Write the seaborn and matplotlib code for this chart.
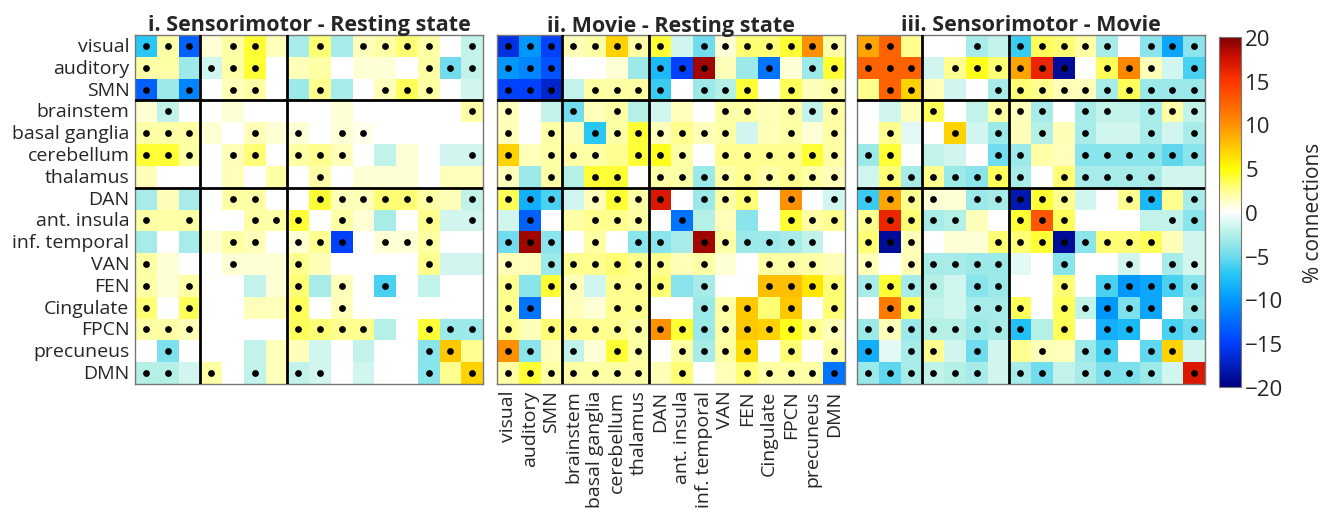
import numpy as np
import pandas as pd
import matplotlib
matplotlib.use("Agg")
import matplotlib.pyplot as plt
import seaborn as sns
from matplotlib.colors import LinearSegmentedColormap

sns.set_style("white")
plt.rcParams['font.family'] = ['Open Sans', 'DejaVu Sans']

regions = ["visual", "auditory", "SMN", "brainstem", "basal ganglia", "cerebellum",
           "thalamus", "DAN", "ant. insula", "inf. temporal", "VAN", "FEN",
           "Cingulate", "FPCN", "precuneus", "DMN"]

titles = ["i. Sensorimotor - Resting state", "ii. Movie - Resting state",
          "iii. Sensorimotor - Movie"]

# ---- panel i : Sensorimotor - Resting state (% connections)
sens_rest = [
    [-7, 2, -13, 1, 2, 4, 1.5, -3, 3, -3, 1.5, 2, 3, 2, 0, -2],
    [2, 2, -3.5, -1.5, 2, 4, 0, 1.5, 2, 0, 1, 1, 0, 2, -5, -2],
    [-13, -3.5, -11, 0, 1.5, 2, 0, -3.5, 2.5, -3, 0, 1.5, 3.5, 2, 0, -1.5],
    [1, -2, 0, 0, 1, 0, 0, 0, 0, 1, 0, 0, 0, 0, 0, 2],
    [2, 2, 2, 1, 0, 1.5, 1, 1, 0, 1, 0.5, 0, 0, 0, 0, 0],
    [4, 4, 2, 0, 1.5, 3, 0, 2, 2.5, 1.5, 0, -2, 1, 0, -1.5, -1.5],
    [1.5, 0, 0, 0, 1.5, 0, 2, 0, 2, 0, 1, 1, 1, 0, 1.5, 1.5],
    [-3, 1.5, -3, 0, 2, 2, 0, 0, 4, 1.5, 1.5, 3, 3, 2, 1.5, -2],
    [2, 2, 2, 0, 0, 2, 2, 4, 0, 2, 1, -3, 0, 2.5, -1.5, -1.5],
    [-3, 0, -3, 1, 2, 1.5, 0, 1, 2.5, -15, 0, 1, 1, 2, 0, 0],
    [2, 1, 0, 0, 1, 1, 1, 2.5, 1.5, 0, 0, 0, 0, 2.5, -1.5, -1.5],
    [2, 1, 2, 0, 0, -2, 1, 3, -3, 1.5, 0, -6, 0, -2, 0, 0],
    [3, 0, 3.5, 0, 0, 1.5, 1.5, 3.5, 0, 1.5, 0, 0, 0, 0, 0, 0],
    [2, 2, 1.5, 0, 0, 0, 0, 3.5, 3, 2.5, 2.5, -2.5, 0, 4, -3.5, -3.5],
    [0, -4.5, 0, 0, 0, -2, 1.5, 1.5, -1.5, 0, -2, 0, 0, -4, 7.5, 2.5],
    [-2.5, -2.5, -1.5, 2, 0, -2, 1.5, -2, -1.5, 0, -1.5, 0, 0, -4, 2.5, 7],
]
sens_rest_sig = [
    "1110110010111101", "1001110000000111", "1010110010011100", "0100000000000001",
    "1110010101100000", "1110110111000001", "0000000010000000", "0000110011111101",
    "1010011101000101", "0000110111011100", "1000100100000100", "1010000101010000",
    "1010000101000000", "1110000111100111", "0100000000000110", "1101010110000101",
]

# ---- panel ii : Movie - Resting state
movie_rest = [
    [-16, -10, -15, 1.5, 2, 7, 2, 4, -1.5, -5, 1, 3, 3, 4, 10, 2],
    [-10, -11, -14, 0, 0, 1, -3.5, -8, -15, 19, 1.5, -3.5, -12, 1, -3.5, 4],
    [-15, -15, -17, -2, 2, 2, 2, -6.5, 0, -3.5, -2.5, 4, 0, 3.5, 1.5, 2],
    [1.5, 0, -2, -5, 1.5, 2, -2.5, -1.5, 1.5, 0, 2, 2, 1.5, 2, -2, 2],
    [1.5, 0, 2, 1.5, -7, 2, 4, 1.5, 2.5, 1.5, 2, -1.5, 1.5, 2, 1, 2],
    [7, 1.5, 2, 2, 2, 2.5, 4, 4.5, 2, 0, 2.5, 2.5, 2.5, 2.5, 4, 2],
    [1.5, -3.5, 2, -2.5, 4, 4, 0, 2, 2, -3.5, 2, 2.5, 2, 2.5, 2, 1.5],
    [3.5, -8.5, -6, -1.5, 1.5, 4, 2, 17, 0, -3.5, 2, 3, 0, 10, 0, -1.5],
    [-1.5, -13, 0, 2, 2.5, 2.5, 2, 0, -12, -2.5, 1.5, -4, 0, 4, 2, 2.5],
    [-5, 19, -4, 0, 2, 0, -4, -4, -3, 19, 2, -3.5, -3.5, -3, -2, 0],
    [1.5, 1.5, -3.5, 2.5, 2.5, 3, 2.5, 2.5, 1.5, 2, 1, 0, 2, 2, 2, 1.5],
    [2.5, -4, 4, 1.5, -1.5, 2.5, 2.5, 3, -4, -3, 0, 0, 8, 8, 6, 3],
    [2.5, -12, 0, 1.5, 1, 2.5, 2.5, 0, 0, -3.5, 2, 7.5, 3, 7.5, 0, 3],
    [2.5, 1.5, 3, 2.5, 2.5, 2.5, 2, 10, 4, -3.5, 2, 7.5, 7, 4.5, 2.5, 1.5],
    [10, -4, 1.5, -2, 1, 4, 2, 0, 2, -3, 2, 6.5, 0, 3, 0, 2],
    [2, 4, 2, 2, 2, 2, 2, 1.5, 3, 0, 1.5, 3, 2, 2, 2, -12],
]
movie_rest_sig = [
    "1111111101111111", "1110000111001011", "1110111101110101", "1001010000110111",
    "1010111111100101", "1011101110111111", "1010110111111111", "1110111101110101",
    "0100111010000111", "1110101101111110", "1011111101001110", "1011011101001111",
    "1100011001110101", "1011111111111111", "1101011011110101", "1111111010011111",
]

# ---- panel iii : Sensorimotor - Movie
sens_movie = [
    [9, 12.5, 2.5, 0, 0, -3, -2, -6.5, 3.5, 3, 2, -3, 0, -4, -9, -4],
    [12.5, 12.5, 12.5, -1.5, 2.5, 4.5, 3, 9, 16, -19, 0, 3.5, 10.5, 1.5, -1.5, -6],
    [2.5, 12.5, 7, 1.5, -1.5, 0, -3, 3, 2.5, 1.5, 1.5, -3, 3.5, -3.5, -3.5, -3.5],
    [0, -1.5, 1.5, 3.5, 0, -2, 2, 1.5, -3, 0, -3, -2, -2, -3, 2, -2],
    [0, 2.5, -1, 0, 7, -1.5, -3.5, 1.5, -2.5, 1.5, -3, -1.5, -1.5, -3, -1.5, -3],
    [-3.5, 4, 0, -2, -1.5, 0, -5, -3.5, 2, 1.5, -4, -4, -4, -4, -5.5, -4],
    [-1.5, 3, -3, 2.5, -3.5, -4, 3.5, -3, 0, 3, -3, -3, -3, -3, -1.5, -1.5],
    [-6.5, 9, 2.5, 1, 1, -3.5, -3, -18, 4, 2.5, -1.5, 0, 2.5, -8, 2.5, -3],
    [2.5, 16, 3, -3, -2.5, 1.5, 0, 4, 13, 3.5, 0, 0, 0, -2, -2, -4],
    [3, -19, 1.5, 0, 1, 1, 3, 3, 4, -19, -4, 3, 3, 3.5, 1.5, -1.5],
    [1.5, 0, 1.5, -3, -3, -3.5, -3.5, -1, 0, -4, 0, 0, -1.5, 0, -3, -1.5],
    [-3, 4, -3, -2.5, -1.5, -4, -3.5, 0, 0, 3, 0, -6, -10, -9, -6, -4],
    [0, 11, 3.5, -2, -1.5, -3, -3, 3.5, 0, 3.5, -2, -10, -4.5, -9, 0, -3.5],
    [-3.5, 1.5, -3.5, -2.5, -2.5, -3.5, -3, -7.5, -2.5, 3.5, 0, -8.5, -8, 0, -6, -5],
    [-8.5, -1, -3, 2.5, -1.5, -5, -1.5, 2.5, 1.5, 1.5, -3.5, -6, 0, -5.5, 7, -1.5],
    [-3.5, -5.5, -3, -2, -2.5, -3, -1.5, -3, -5, -2, -3, -4.5, -4.5, -3.5, -1.5, 17],
]
sens_movie_sig = [
    "1100010111110111", "1110111111011101", "0110001111111111", "0001001110110111",
    "0100101010100101", "1100001100111111", "0111111101111100", "1111011111001101",
    "1111100111000011", "1110001111111100", "1011111001001011", "1111011001011111",
    "0110011101111101", "1111111101011011", "1011010010110110", "1111110110111101",
]

cbar_ticks = [20, 15, 10, 5, 0, -5, -10, -15, -20]

cmap = LinearSegmentedColormap.from_list("jetwhite", [
    (0.0, "#00007f"), (0.125, "#0040ff"), (0.25, "#0098ff"), (0.325, "#28c8f4"),
    (0.375, "#70dcee"), (0.4375, "#b4f0e6"), (0.5, "#ffffff"), (0.5625, "#ffff90"),
    (0.625, "#ffff00"), (0.6875, "#ffc800"), (0.75, "#ff9000"), (0.875, "#ff3400"),
    (0.94, "#d01000"), (1.0, "#800000")], N=257)

W, H = 1332, 510
fig = plt.figure(figsize=(W / 100, H / 100), dpi=100)

panel_left = [135, 497, 857]
ax_w, ax_top, ax_h = 348, 36, 349
datasets = [(sens_rest, sens_rest_sig), (movie_rest, movie_rest_sig),
            (sens_movie, sens_movie_sig)]
label_fs = 14

mesh = None
for k, (vals, sig) in enumerate(datasets):
    ax = fig.add_axes([panel_left[k] / W, 1 - (ax_top + ax_h) / H, ax_w / W, ax_h / H])
    df = pd.DataFrame(np.array(vals, dtype=float), index=regions, columns=regions)
    sns.heatmap(df, ax=ax, cmap=cmap, vmin=-20, vmax=20, cbar=False,
                xticklabels=(regions if k == 1 else False),
                yticklabels=(regions if k == 0 else False))
    mesh = ax.collections[0]
    ys, xs = [], []
    for i, row in enumerate(sig):
        for j, ch in enumerate(row):
            if ch == "1":
                ys.append(i + 0.5)
                xs.append(j + 0.5)
    ax.scatter(xs, ys, s=24, c="black", linewidths=0, zorder=5)
    for p in (3, 7):
        ax.axhline(p, color="black", lw=2, zorder=6)
        ax.axvline(p, color="black", lw=2, zorder=6)
    n = len(regions)
    ax.set_xticks(np.arange(n) + 0.5)
    ax.set_yticks(np.arange(n) + 0.5)
    if k == 1:
        ax.set_xticklabels(regions, rotation=90, fontsize=label_fs)
    else:
        ax.set_xticklabels([])
    if k == 0:
        ax.set_yticklabels(regions, rotation=0, fontsize=label_fs)
    else:
        ax.set_yticklabels([])
    ax.tick_params(direction="in", length=3, width=0.7, color="#444444",
                   top=True, right=True, bottom=True, left=True, pad=4)
    for s in ax.spines.values():
        s.set_visible(True)
        s.set_color("#777777")
        s.set_linewidth(1)
    ax.set_xlabel("")
    ax.set_ylabel("")
    ax.set_title(titles[k], fontsize=15.5, fontweight="bold", pad=3)

cax = fig.add_axes([1219 / W, 1 - 388 / H, 22 / W, 350 / H])
cb = fig.colorbar(mesh, cax=cax, ticks=cbar_ticks)
cb.ax.tick_params(direction="in", length=3, width=0.7, labelsize=16, pad=3)
cb.outline.set_edgecolor("#777777")
cb.set_label("% connections", fontsize=15, labelpad=14)

fig.savefig("out.png", dpi=100)
